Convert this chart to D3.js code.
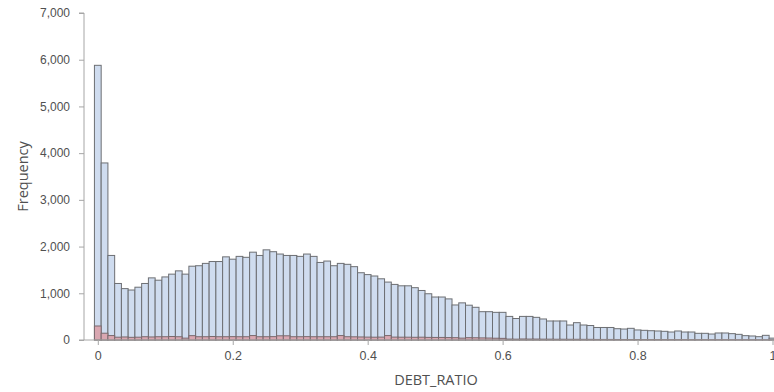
<!DOCTYPE html>
<html>
<head>
<meta charset="utf-8">
<script src="https://cdn.jsdelivr.net/npm/d3@7"></script>
<style>
  html, body { margin: 0; padding: 0; background: #fff; }
  svg { display: block; font-family: "Open Sans", "Noto Sans", sans-serif; }
</style>
</head>
<body>
<svg id="chart" width="774" height="392"></svg>
<script>
// Histogram of DEBT_RATIO: bins of width 0.01 centred on 0, 0.01, ... 1.00
const binWidth = 0.01;
const binCenters = d3.range(0, 101).map(k => +(k * binWidth).toFixed(2));

// All observations per bin
const totalCounts = [
  5880, 3790, 1810, 1210, 1100, 1070, 1130, 1210, 1330, 1280,
  1350, 1410, 1480, 1410, 1580, 1590, 1640, 1680, 1680, 1780,
  1730, 1790, 1770, 1880, 1810, 1930, 1890, 1840, 1810, 1810,
  1790, 1840, 1790, 1660, 1690, 1590, 1640, 1620, 1570, 1440,
  1400, 1370, 1310, 1240, 1190, 1160, 1160, 1120, 1060, 990,
  920, 920, 880, 750, 795, 745, 700, 606, 606, 592,
  592, 505, 460, 505, 505, 485, 450, 407, 407, 407,
  321, 371, 321, 310, 268, 268, 268, 242, 235, 250,
  215, 207, 199, 193, 186, 171, 193, 171, 171, 143,
  143, 128, 150, 150, 136, 121, 93, 86, 71, 100,
  40
];

// Subgroup overlaid from the same baseline
const groupCounts = [
  300, 145, 95, 60, 65, 57, 60, 70, 65, 70,
  70, 75, 70, 40, 93, 70, 70, 75, 70, 70,
  72, 70, 70, 95, 70, 70, 72, 90, 90, 70,
  70, 72, 70, 70, 70, 70, 95, 70, 68, 65,
  62, 60, 62, 95, 62, 60, 60, 58, 60, 56,
  55, 55, 52, 50, 40, 50, 48, 45, 42, 38,
  35, 20, 18, 22, 20, 20, 18, 18, 16, 16,
  15, 15, 14, 14, 12, 12, 12, 11, 11, 10,
  10, 10, 9, 9, 9, 8, 8, 8, 7, 7,
  7, 6, 6, 6, 5, 5, 5, 4, 4, 4,
  3
];

const xTicks = [0, 0.2, 0.4, 0.6, 0.8, 1];
const yTicks = [0, 1000, 2000, 3000, 4000, 5000, 6000, 7000];

const svg = d3.select("#chart");
const axisX0 = 84, plotTop = 13, plotBottom = 340, plotRight = 774;

const x = d3.scaleLinear().domain([0, 1]).range([97.8, 772.5]);
const y = d3.scaleLinear().domain([0, 7000]).range([plotBottom, plotTop]);

const textColor = "#505050";
const axisColor = "#a6a6a6";

// Bars
const bars = svg.append("g");
function drawBars(values, fill, stroke) {
  bars.append("g").selectAll("rect")
    .data(values.map((v, i) => ({ c: binCenters[i], v })))
    .join("rect")
    .attr("x", d => x(d.c - binWidth / 2))
    .attr("width", d => x(d.c + binWidth / 2) - x(d.c - binWidth / 2))
    .attr("y", d => y(d.v))
    .attr("height", d => y(0) - y(d.v))
    .attr("fill", fill)
    .attr("stroke", stroke)
    .attr("stroke-width", 1);
}
drawBars(totalCounts, "#cfdcef", "#6d6f73");
drawBars(groupCounts, "#d9a7b1", "#7a6a6e");

// Y axis
const yAxis = svg.append("g")
  .attr("transform", `translate(${axisX0},0)`)
  .call(d3.axisLeft(y).tickValues(yTicks).tickFormat(d3.format(",")).tickSize(5).tickPadding(9));
yAxis.select(".domain").attr("stroke", axisColor).attr("d", `M-5,${plotTop}H0V${plotBottom}H-5`);
yAxis.selectAll(".tick line").attr("stroke", axisColor);
yAxis.selectAll(".tick text").attr("fill", textColor).style("font-size", "12px");

// X axis
const xAxis = svg.append("g")
  .attr("transform", `translate(0,${plotBottom})`)
  .call(d3.axisBottom(x).tickValues(xTicks).tickFormat(d3.format("")).tickSize(5).tickPadding(6));
xAxis.select(".domain").attr("stroke", axisColor).attr("d", `M${axisX0},0H${plotRight}`);
xAxis.selectAll(".tick line").attr("stroke", axisColor);
xAxis.selectAll(".tick text").attr("fill", textColor).style("font-size", "12.5px");

// Axis titles
svg.append("text")
  .attr("x", 436).attr("y", 385)
  .attr("text-anchor", "middle")
  .attr("fill", textColor)
  .style("font-size", "14.5px")
  .text("DEBT_RATIO");

svg.append("text")
  .attr("transform", `translate(28,${(plotTop + plotBottom) / 2}) rotate(-90)`)
  .attr("text-anchor", "middle")
  .attr("fill", textColor)
  .style("font-size", "14.5px")
  .text("Frequency");
</script>
</body>
</html>
